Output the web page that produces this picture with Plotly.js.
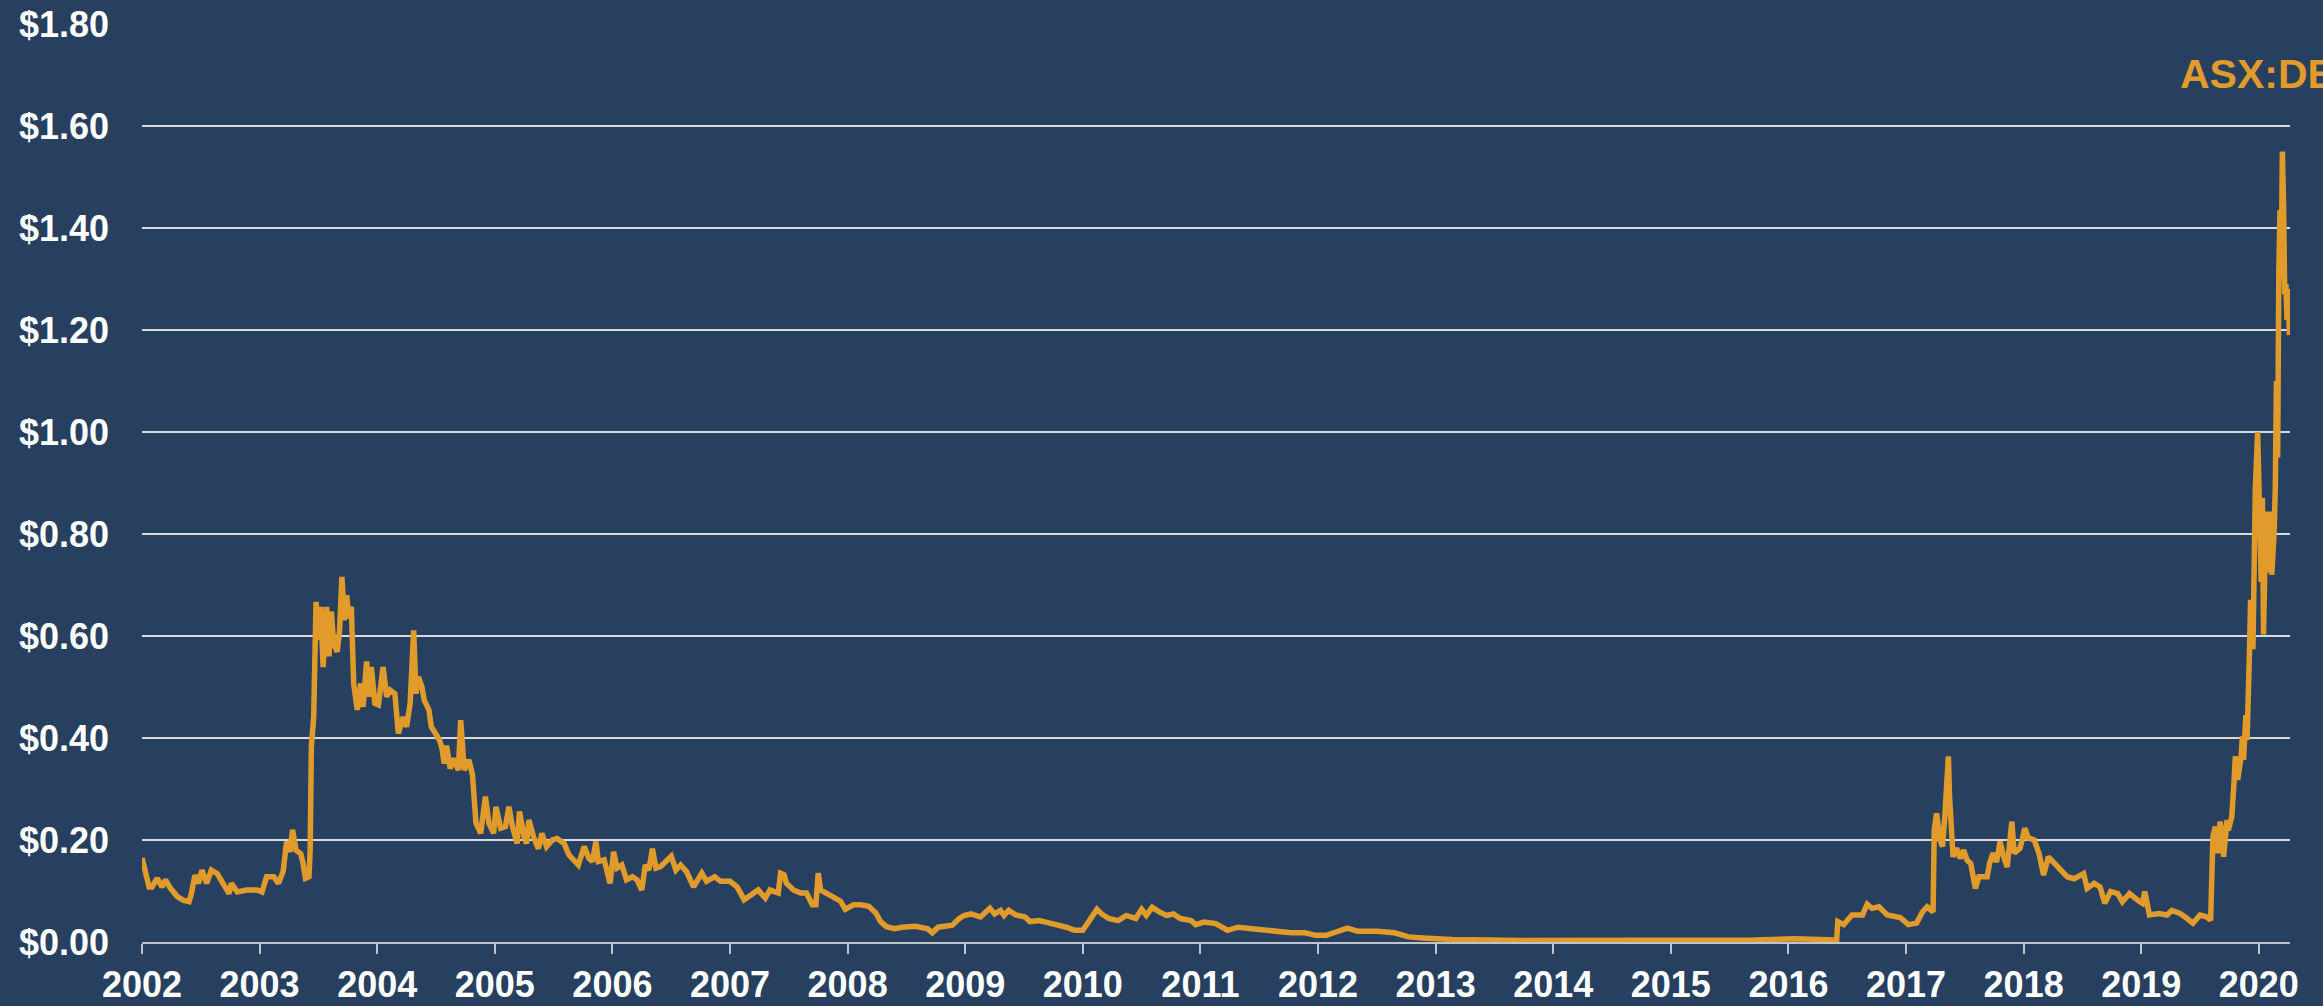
<!DOCTYPE html>
<html>
<head>
<meta charset="utf-8">
<script src="https://cdn.plot.ly/plotly-3.0.1.min.js"></script>
<style>
html,body{margin:0;padding:0;background:#27405F;overflow:hidden;}
#chart{width:2323px;height:1006px;}
</style>
</head>
<body>
<div id="chart"></div>
<script>
// Decimal-year positions of the price readings (ASX:DEG share price, AUD)
const years = [
2002.00,2002.03,2002.06,2002.085,2002.13,2002.17,2002.20,2002.24,2002.30,2002.35,2002.40,2002.42,2002.45,2002.48,2002.51,2002.55,2002.59,2002.64,2002.69,2002.74,2002.76,2002.81,2002.89,2002.98,
2003.02,2003.06,2003.12,2003.16,2003.20,2003.23,2003.26,2003.28,2003.31,2003.35,2003.37,2003.39,2003.42,2003.43,2003.44,2003.45,2003.46,2003.48,2003.50,2003.52,2003.54,2003.57,2003.59,2003.61,2003.63,2003.66,2003.68,2003.70,2003.72,2003.74,2003.76,2003.78,2003.80,2003.83,2003.86,2003.88,2003.91,2003.93,2003.95,2003.98,
2004.01,2004.05,2004.08,2004.11,2004.15,2004.18,2004.22,2004.25,2004.28,2004.31,2004.33,2004.35,2004.38,2004.40,2004.44,2004.46,2004.49,2004.53,2004.55,2004.57,2004.59,2004.62,2004.65,2004.69,2004.71,2004.74,2004.78,2004.81,2004.84,2004.88,2004.92,2004.95,2004.99,
2005.01,2005.05,2005.09,2005.12,2005.15,2005.19,2005.21,2005.25,2005.27,2005.29,2005.33,2005.37,2005.40,2005.44,2005.49,2005.53,2005.59,2005.63,2005.67,2005.71,2005.76,2005.80,2005.83,2005.86,2005.88,2005.93,2005.98,
2006.01,2006.04,2006.08,2006.12,2006.17,2006.21,2006.25,2006.28,2006.31,2006.34,2006.37,2006.41,2006.45,2006.50,2006.54,2006.58,2006.63,2006.69,2006.76,2006.80,2006.87,2006.92,
2007.00,2007.06,2007.12,2007.19,2007.24,2007.30,2007.34,2007.41,2007.43,2007.46,2007.48,2007.54,2007.60,2007.65,2007.70,2007.73,2007.75,2007.77,2007.82,2007.88,2007.94,2007.98,
2008.05,2008.11,2008.18,2008.24,2008.28,2008.33,2008.40,2008.46,2008.58,2008.68,2008.72,2008.77,2008.89,2008.95,2008.99,
2009.05,2009.13,2009.21,2009.25,2009.30,2009.33,2009.37,2009.43,2009.51,2009.55,2009.63,2009.71,2009.77,2009.86,2009.93,
2010.00,2010.07,2010.12,2010.16,2010.22,2010.30,2010.37,2010.45,2010.50,2010.54,2010.59,2010.65,2010.71,2010.77,2010.83,2010.92,2010.96,
2011.03,2011.13,2011.23,2011.32,2011.44,2011.56,2011.65,2011.77,2011.89,2011.98,
2012.07,2012.16,2012.25,2012.34,2012.50,2012.65,2012.77,2012.89,
2013.03,2013.14,2013.74,2014.50,2014.96,2015.72,2016.05,2016.39,2016.41,2016.42,2016.47,2016.54,2016.63,2016.67,2016.71,2016.77,2016.84,2016.95,
2017.02,2017.09,2017.14,2017.18,2017.23,2017.24,2017.26,2017.29,2017.31,2017.33,2017.36,2017.37,2017.39,2017.40,2017.43,2017.46,2017.49,2017.52,2017.55,2017.59,2017.62,2017.69,2017.71,2017.74,2017.77,2017.80,2017.83,2017.86,2017.90,2017.92,2017.97,
2018.01,2018.04,2018.09,2018.13,2018.17,2018.21,2018.26,2018.31,2018.37,2018.43,2018.51,2018.54,2018.60,2018.65,2018.69,2018.74,2018.80,2018.84,2018.90,2018.97,
2019.01,2019.03,2019.07,2019.15,2019.22,2019.26,2019.33,2019.39,2019.44,2019.50,2019.55,2019.59,2019.60,2019.61,2019.63,2019.65,2019.67,2019.69,2019.70,2019.73,2019.74,2019.77,2019.79,2019.80,2019.82,2019.85,2019.86,2019.87,2019.89,2019.90,2019.92,2019.93,2019.95,2019.97,2019.99,
2020.01,2020.02,2020.03,2020.04,2020.06,2020.08,2020.10,2020.11,2020.13,2020.14,2020.15,2020.16,2020.17,2020.18,2020.19,2020.20,2020.21,2020.22,2020.23,2020.24,2020.25,2020.26
];
const prices = [
0.165,0.141,0.108,0.108,0.125,0.108,0.122,0.106,0.089,0.082,0.079,0.095,0.131,0.115,0.141,0.115,0.141,0.134,0.115,0.095,0.115,0.098,0.102,0.102,
0.098,0.128,0.128,0.115,0.138,0.197,0.177,0.220,0.180,0.173,0.154,0.125,0.128,0.180,0.383,0.422,0.441,0.667,0.592,0.657,0.539,0.657,0.560,0.648,0.585,0.569,0.611,0.716,0.631,0.680,0.635,0.657,0.507,0.455,0.507,0.461,0.550,0.481,0.539,0.468,
0.465,0.539,0.481,0.494,0.487,0.409,0.441,0.422,0.468,0.611,0.487,0.520,0.500,0.474,0.455,0.422,0.409,0.396,0.380,0.350,0.385,0.340,0.360,0.337,0.435,0.337,0.357,0.328,0.233,0.213,0.285,0.233,0.213,
0.265,0.223,0.226,0.265,0.226,0.193,0.256,0.206,0.193,0.239,0.206,0.183,0.213,0.187,0.200,0.203,0.193,0.171,0.161,0.151,0.187,0.164,0.158,0.197,0.158,0.161,0.115,
0.177,0.145,0.151,0.122,0.128,0.122,0.102,0.151,0.141,0.183,0.145,0.148,0.158,0.168,0.141,0.151,0.138,0.108,0.135,0.119,0.128,0.119,
0.119,0.108,0.083,0.093,0.102,0.086,0.102,0.096,0.135,0.132,0.115,0.102,0.096,0.096,0.073,0.073,0.135,0.102,0.096,0.089,0.080,0.064,
0.073,0.073,0.070,0.057,0.040,0.030,0.026,0.029,0.031,0.026,0.018,0.029,0.033,0.046,0.052,
0.055,0.049,0.066,0.055,0.062,0.052,0.062,0.053,0.049,0.040,0.042,0.036,0.034,0.029,0.023,
0.023,0.046,0.064,0.055,0.046,0.042,0.052,0.046,0.064,0.052,0.068,0.059,0.052,0.055,0.046,0.042,0.034,
0.039,0.036,0.023,0.029,0.026,0.023,0.020,0.018,0.018,0.013,
0.013,0.020,0.027,0.021,0.021,0.018,0.010,0.008,
0.0065,0.005,0.003,0.003,0.003,0.004,0.0065,0.005,0.004,0.040,0.034,0.053,0.053,0.074,0.066,0.069,0.053,0.048,
0.034,0.037,0.059,0.069,0.059,0.220,0.252,0.200,0.187,0.246,0.364,0.285,0.226,0.167,0.184,0.164,0.180,0.160,0.154,0.105,0.128,0.128,0.154,0.174,0.157,0.197,0.167,0.147,0.236,0.174,0.184,
0.223,0.204,0.200,0.174,0.131,0.167,0.154,0.144,0.128,0.124,0.134,0.105,0.115,0.108,0.076,0.099,0.095,0.079,0.095,0.082,
0.076,0.099,0.053,0.056,0.053,0.062,0.056,0.046,0.037,0.053,0.050,0.043,0.138,0.207,0.226,0.174,0.236,0.213,0.167,0.239,0.219,0.245,0.318,0.364,0.318,0.364,0.403,0.357,0.445,0.396,0.566,0.671,0.574,0.888,1.000,
0.789,0.706,0.871,0.603,0.844,0.724,0.844,0.720,0.803,0.892,1.100,0.950,1.315,1.435,1.300,1.550,1.450,1.270,1.290,1.220,1.280,1.190
];
// Axis tick labels
const tickYears = [2002,2003,2004,2005,2006,2007,2008,2009,2010,2011,2012,2013,2014,2015,2016,2017,2018,2019,2020];
const tickYearLabels = tickYears.map(String);
const seriesLabel = 'ASX:DEG';

const ORANGE = '#E09B2A';
const BG = '#27405F';
const GRID = '#D9D9D9';
const FONT = '"Liberation Sans", Arial, sans-serif';

const trace = {
  x: years, y: prices, type: 'scatter', mode: 'lines',
  line: {color: ORANGE, width: 5.5}, hoverinfo: 'skip', showlegend: false
};

const layout = {
  width: 2323, height: 1006,
  paper_bgcolor: BG, plot_bgcolor: BG,
  margin: {l: 142, r: 33, t: 24, b: 64, pad: 0},
  showlegend: false,
  xaxis: {
    type: 'linear', range: [2002, 2020.265],
    tickmode: 'array', tickvals: tickYears, ticktext: tickYearLabels,
    ticks: 'outside', ticklen: 10, tickwidth: 2, tickcolor: '#BFC3CA',
    showline: true, linecolor: '#BFC3CA', linewidth: 2,
    showgrid: false, zeroline: false,
    tickfont: {family: FONT, size: 36, color: '#FFFFFF', weight: 'bold'}
  },
  yaxis: {
    range: [0, 1.8], dtick: 0.2, tick0: 0,
    tickprefix: '$', tickformat: '.2f',
    showgrid: true, gridcolor: GRID, gridwidth: 2,
    zeroline: false, showline: false, ticks: '',
    ticklabelstandoff: 32,
    tickfont: {family: FONT, size: 36, color: '#FFFFFF', weight: 'bold'}
  },
  annotations: [{
    text: seriesLabel, xref: 'paper', yref: 'paper',
    x: 0.9478, y: 0.9455, xanchor: 'left', yanchor: 'middle',
    showarrow: false,
    font: {family: FONT, size: 41, color: ORANGE, weight: 'bold'}
  }]
};

Plotly.newPlot('chart', [trace], layout, {staticPlot: true, displayModeBar: false});
</script>
</body>
</html>
